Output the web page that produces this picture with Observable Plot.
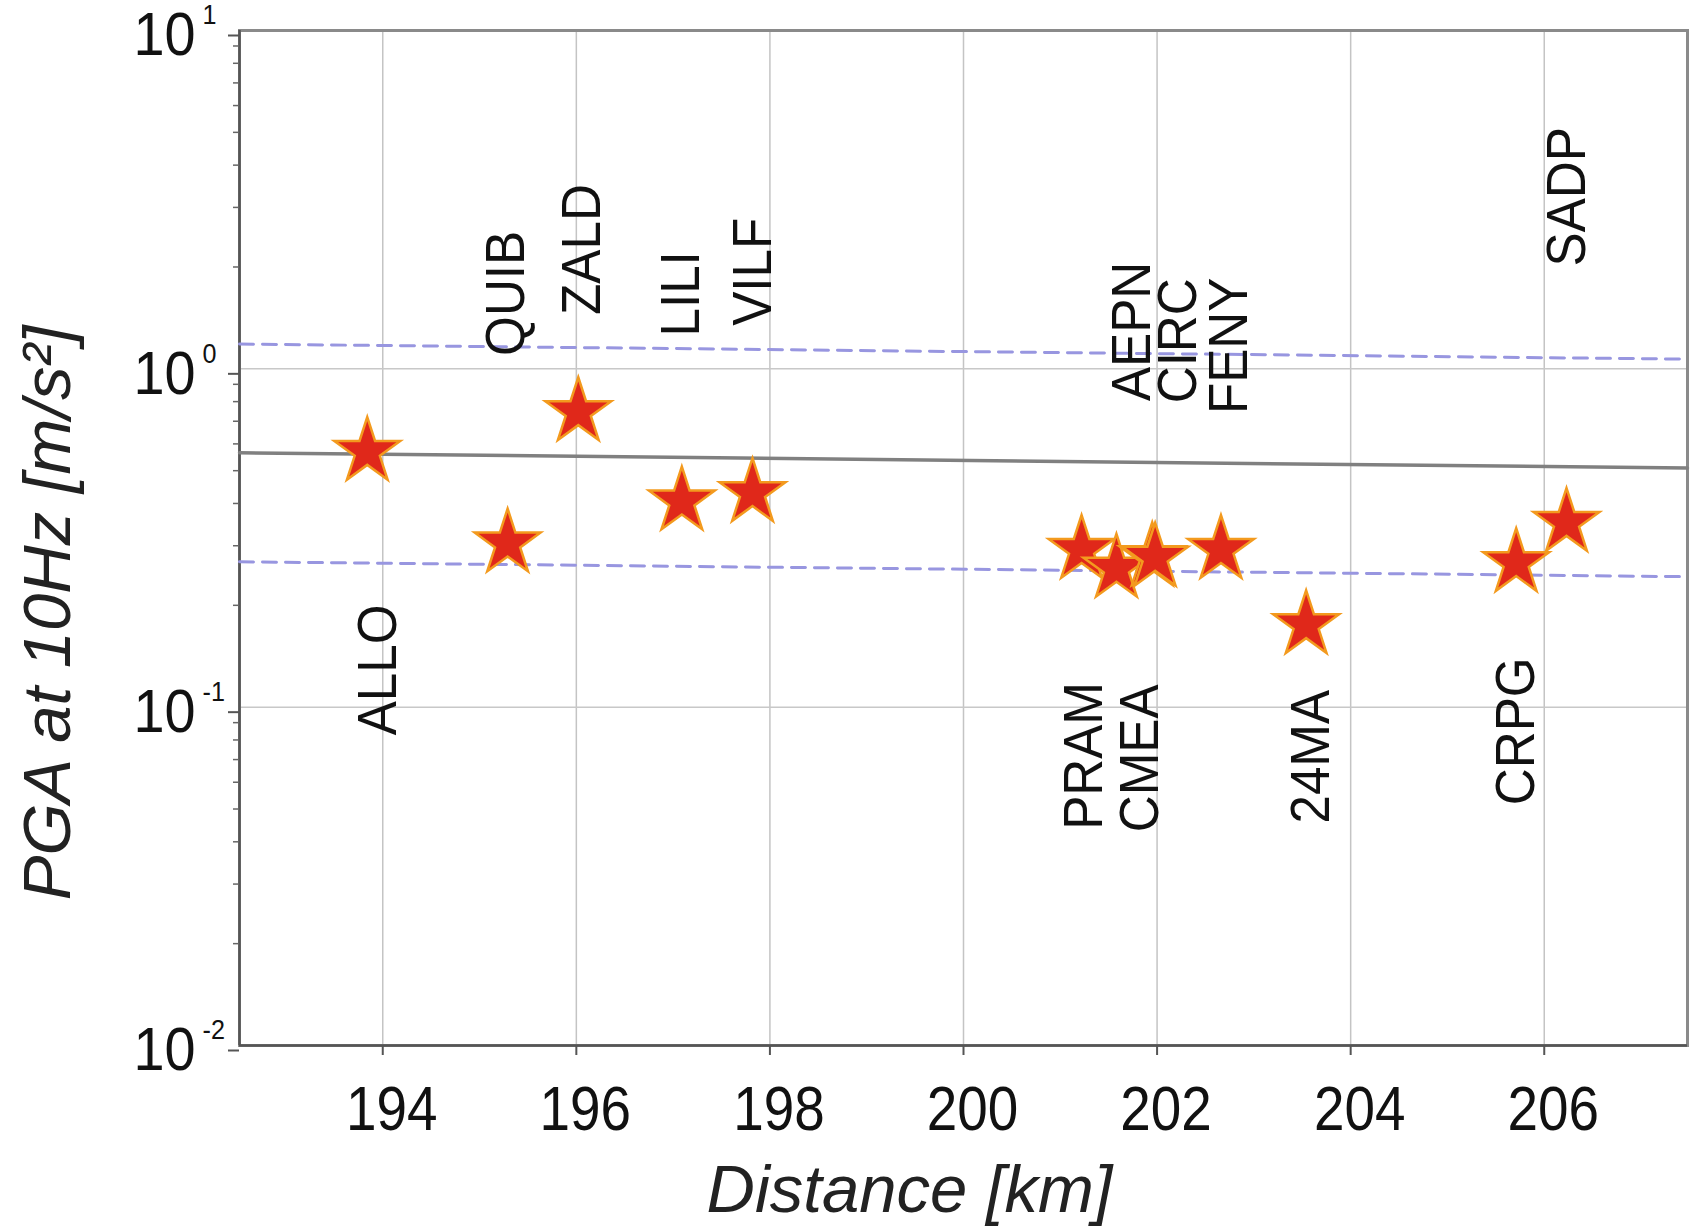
<!DOCTYPE html>
<html><head><meta charset="utf-8">
<script src="https://cdn.jsdelivr.net/npm/d3@7"></script>
<script src="https://cdn.jsdelivr.net/npm/@observablehq/plot@0.6"></script>
<style>
body{margin:0;background:#fff;}
#chart svg{font-family:"Liberation Sans",Arial,sans-serif;}
</style></head><body><div id="chart"></div>
<script>
// Station observations
const stations = ["ALLO","QUIB","ZALD","LILI","VILF","PRAM","CMEA","AEPN","CIRC","FENY","24MA","CRPG","SADP"];
const distanceKm = [193.84,195.29,196.02,197.09,197.82,201.22,201.58,201.95,201.98,202.66,203.54,205.71,206.23];
const pga10Hz = [0.569,0.305,0.746,0.406,0.430,0.292,0.257,0.278,0.277,0.292,0.175,0.267,0.351];
// Label anchors (data units: distance, PGA at label start)
const labelDistance = [193.95,195.28,196.06,197.09,197.83,201.25,201.83,201.75,202.22,202.75,203.59,205.71,206.24];
const labelPGA = [0.0826,1.092,1.443,1.246,1.34,0.0434,0.0427,0.803,0.791,0.735,0.0453,0.0513,2.007];
// Model prediction (median and +/- one sigma)
const modelDistance = [192.52, 207.48];
const modelMedian = [0.565, 0.509];
const modelUpper = [1.184, 1.068];
const modelLower = [0.269, 0.243];
// Axes
const xDomain = [192.52, 207.48];
const yDomain = [0.01, 10];
const xTicks = [194,196,198,200,202,204,206];
const yTicks = [0.01,0.1,1,10];
const yExponents = ["-2","-1","0","1"];
const yGrid = [0.1, 1];
const yMinor = [0.01,0.1,1].flatMap(d => [2,3,4,5,6,7,8,9].map(k => k*d));
const xTitle = "Distance [km]";
const yTitle = "PGA at 10Hz [m/s²]";

const obs = stations.map((s,i) => ({station:s, d:distanceKm[i], pga:pga10Hz[i], ld:labelDistance[i], lp:labelPGA[i]}));
const model = modelDistance.map((d,i) => ({d, med:modelMedian[i], up:modelUpper[i], lo:modelLower[i]}));

const chart = Plot.plot({
  width: 1690, height: 1232,
  marginLeft: 239, marginRight: 3, marginTop: 30, marginBottom: 187,
  style: {background: "#fff", fontFamily: "'Liberation Sans', Arial, sans-serif"},
  x: {domain: xDomain, label: null},
  y: {type: "log", domain: yDomain, label: null},
  marks: [
    Plot.gridX(xTicks, {stroke: "#c4c4c4", strokeOpacity: 1, strokeWidth: 1.5}),
    Plot.gridY(yGrid, {stroke: "#c8c8c8", strokeOpacity: 1, strokeWidth: 1.5}),
    Plot.frame({stroke: "#8a8a8a", strokeWidth: 3}),
    Plot.ruleY([yDomain[0]], {stroke: "#555", strokeWidth: 2.5}),
    Plot.ruleX([xDomain[0]], {stroke: "#555", strokeWidth: 2.5}),
    // x ticks, then x tick labels (labels sit slightly right of their ticks in the original)
    Plot.axisX(xTicks, {tickSize: 10, tickFormat: () => "", stroke: "#555", strokeWidth: 2, label: null}),
    Plot.axisX(xTicks, {tickSize: 0, tickPadding: 40, dx: 9, fontSize: 63, fill: "#111", label: null}),
    Plot.axisY(yTicks, {tickSize: 11, tickPadding: 33, dy: 5, fontSize: 62, stroke: "#555", strokeWidth: 2, fill: "#111", tickFormat: () => "10", label: null}),
    Plot.axisY(yMinor, {tickSize: 6, tickFormat: () => "", stroke: "#666", strokeWidth: 1.5, label: null}),
    Plot.text(yTicks, {y: d => d, text: (d,i) => yExponents[i], frameAnchor: "left", dx: -37, dy: -15, textAnchor: "start", lineAnchor: "middle", fontSize: 28, fill: "#111"}),
    Plot.line(model, {x: "d", y: "up", stroke: "#9896e0", strokeWidth: 3, strokeDasharray: "14,9"}),
    Plot.line(model, {x: "d", y: "lo", stroke: "#9896e0", strokeWidth: 3, strokeDasharray: "14,9"}),
    Plot.line(model, {x: "d", y: "med", stroke: "#808080", strokeWidth: 3.5}),
    Plot.dot(obs, {x: "d", y: "pga", symbol: "star", r: 20.7, fill: "#e0281a", stroke: "#f39a1e", strokeWidth: 2.5}),
    Plot.text(obs, {x: "ld", y: "lp", text: "station", rotate: -90, textAnchor: "start", lineAnchor: "middle", fontSize: 55, fill: "#111"}),
    Plot.text([xTitle], {text: d => d, frameAnchor: "bottom", textAnchor: "middle", dx: -54, dy: 145, lineAnchor: "middle", fontSize: 67, fontStyle: "italic", fill: "#222"}),
    Plot.text([yTitle], {text: d => d, frameAnchor: "left", textAnchor: "middle", rotate: -90, dx: -191, dy: 75, lineAnchor: "middle", fontSize: 67, fontStyle: "italic", fill: "#222"})
  ]
});
document.getElementById("chart").appendChild(chart);

// Narrow the glyphs slightly to match the condensed lettering of the original
function condense(selector, factor) {
  chart.querySelectorAll(selector).forEach(t => {
    const w = t.getComputedTextLength();
    if (w > 0) {
      t.setAttribute("textLength", (w * factor).toFixed(1));
      t.setAttribute("lengthAdjust", "spacingAndGlyphs");
    }
  });
}
condense('g[aria-label="x-axis tick label"] text', 0.87);
condense('g[aria-label="y-axis tick label"] text', 0.9);
condense('g[font-size="28"] text', 0.9);
condense('g[font-size="55"] text', 0.93);
</script></body></html>
